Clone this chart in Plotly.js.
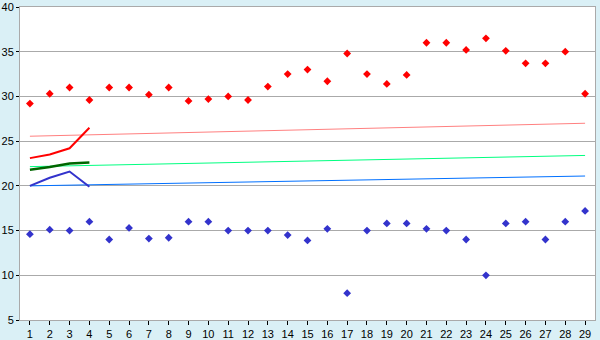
<!DOCTYPE html>
<html>
<head>
<meta charset="utf-8">
<script src="https://cdn.plot.ly/plotly-3.0.1.min.js"></script>
<style>html,body{margin:0;padding:0;background:#DAF0F6;}#chart{width:600px;height:340px;}</style>
</head>
<body>
<div id="chart"></div>
<script>
const days = [1,2,3,4,5,6,7,8,9,10,11,12,13,14,15,16,17,18,19,20,21,22,23,24,25,26,27,28,29];
const highs = [29.2,30.3,31.0,29.6,31.0,31.0,30.2,31.0,29.5,29.7,30.0,29.6,31.1,32.5,33.0,31.7,34.8,32.5,31.4,32.4,36.0,36.0,35.2,36.5,35.1,33.7,33.7,35.0,30.3];
const lows = [14.6,15.1,15.0,16.0,14.0,15.3,14.1,14.2,16.0,16.0,15.0,15.0,15.0,14.5,13.9,15.2,8.0,15.0,15.8,15.8,15.2,15.0,14.0,10.0,15.8,16.0,14.0,16.0,17.2];
const trendDays = [1,29];
const trendHigh = [25.55,27.0];
const trendMean = [22.15,23.4];
const trendLow = [20.0,21.1];
const shortDays = [1,2,3,4];
const shortHigh = [23.1,23.5,24.2,26.5];
const shortMean = [21.8,22.1,22.5,22.6];
const shortLow = [20.0,20.9,21.6,19.9];

const traces = [
  {x: trendDays, y: trendHigh, mode: 'lines', line: {color: '#FF8080', width: 1}},
  {x: trendDays, y: trendMean, mode: 'lines', line: {color: '#00FF80', width: 1}},
  {x: trendDays, y: trendLow, mode: 'lines', line: {color: '#0070FF', width: 1}},
  {x: shortDays, y: shortHigh, mode: 'lines', line: {color: '#FF0000', width: 2}},
  {x: shortDays, y: shortMean, mode: 'lines', line: {color: '#006600', width: 2.5}},
  {x: shortDays, y: shortLow, mode: 'lines', line: {color: '#3333CC', width: 2}},
  {x: days, y: highs, mode: 'markers', marker: {symbol: 'diamond', size: 6, color: '#FF0000'}},
  {x: days, y: lows, mode: 'markers', marker: {symbol: 'diamond', size: 6, color: '#3333CC'}}
];

const layout = {
  width: 600, height: 340,
  margin: {l: 20, r: 5, t: 7, b: 20, pad: 0},
  paper_bgcolor: '#DAF0F6',
  plot_bgcolor: '#FFFFFF',
  showlegend: false,
  font: {family: 'Liberation Sans, Arial, sans-serif', size: 11, color: '#000000'},
  xaxis: {
    range: [0.5, 29.5], tickmode: 'linear', tick0: 1, dtick: 1,
    showgrid: false, zeroline: false,
    showline: true, linecolor: '#AAAAAA', linewidth: 1, mirror: true,
    ticks: 'outside', ticklen: 4, tickcolor: '#000000', tickwidth: 1,
    tickfont: {size: 11}
  },
  yaxis: {
    range: [5, 40], tickmode: 'linear', tick0: 5, dtick: 5,
    showgrid: true, gridcolor: '#AAAAAA', gridwidth: 1, zeroline: false,
    showline: true, linecolor: '#AAAAAA', linewidth: 1, mirror: true,
    ticks: 'outside', ticklen: 3, tickcolor: '#000000', tickwidth: 1,
    tickfont: {size: 11}, ticklabeloverflow: 'allow'
  }
};

Plotly.newPlot('chart', traces, layout, {displayModeBar: false, staticPlot: true});
</script>
</body>
</html>
